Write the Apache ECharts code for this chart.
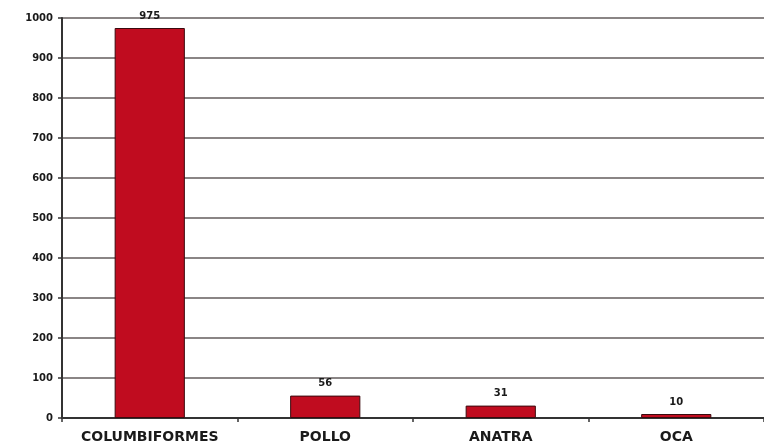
<!DOCTYPE html>
<html><head><meta charset="utf-8">
<script src="https://cdn.jsdelivr.net/npm/echarts@6/dist/echarts.min.js"></script>
<style>html,body{margin:0;padding:0;background:#fff}#c{width:764px;height:448px}</style>
</head><body><div id="c"></div>
<script>
var categories = ['COLUMBIFORMES', 'POLLO', 'ANATRA', 'OCA'];
var values = [975, 56, 31, 10];
var yTicks = [0, 100, 200, 300, 400, 500, 600, 700, 800, 900, 1000];

var chart = echarts.init(document.getElementById('c'));
chart.setOption({
  animation: false,
  backgroundColor: '#ffffff',
  grid: { left: 62, right: -4, top: 18, bottom: 30, containLabel: false },
  xAxis: {
    type: 'category',
    data: categories,
    axisLine: { lineStyle: { color: '#333', width: 2 } },
    axisTick: { show: true, interval: 0, length: 4, lineStyle: { color: '#333', width: 1.5 } },
    axisLabel: { interval: 0, hideOverlap: false, color: '#1a1a1a', fontFamily: 'DejaVu Sans', fontWeight: 'bold', fontSize: 14, margin: 12 }
  },
  yAxis: {
    type: 'value',
    min: yTicks[0], max: yTicks[yTicks.length - 1], interval: 100,
    axisLine: { show: true, lineStyle: { color: '#333', width: 2 } },
    axisTick: { show: true, length: 4, lineStyle: { color: '#333', width: 1.5 } },
    axisLabel: { color: '#1a1a1a', fontFamily: 'DejaVu Sans', fontWeight: 'bold', fontSize: 10, margin: 9,
      formatter: function (v) { return String(v); } },
    splitLine: { show: true, lineStyle: { color: '#8a8585', width: 2 } }
  },
  series: [{
    type: 'bar',
    data: values,
    barWidth: '40%',
    itemStyle: { color: '#c00c1f', borderColor: '#3a0a0e', borderWidth: 1 },
    label: { show: true, position: 'top', distance: 7, color: '#1a1a1a', fontFamily: 'DejaVu Sans', fontWeight: 'bold', fontSize: 10 }
  }]
});
</script></body></html>
